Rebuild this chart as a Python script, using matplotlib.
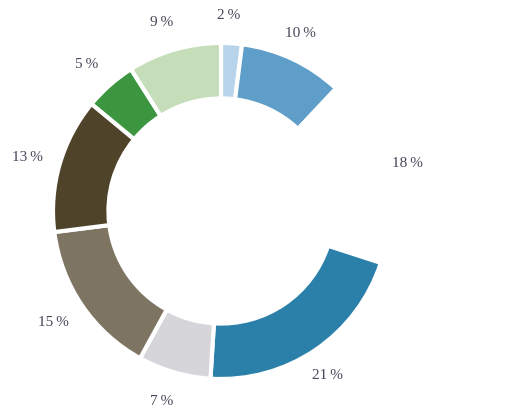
import numpy as np
import matplotlib.pyplot as plt

# share of each segment, clockwise from the top
shares = [2, 10, 18, 21, 7, 15, 13, 5, 9]
colors = ["#b8d4ea", "#5f9ec9", "#ffffff", "#2a80a9", "#d6d6da",
          "#7e7462", "#4f4329", "#3b963f", "#c5ddb9"]
labels = ["%d\u2009%%" % s for s in shares]

plt.rcParams['font.family'] = ['Liberation Serif', 'DejaVu Serif']

fig = plt.figure(figsize=(5.24, 4.09), dpi=100)
ax = fig.add_axes([0, 0, 1, 1])

r = 168.0
cx, cy = 221.0, 211.0
wedges, texts = ax.pie(shares, colors=colors, labels=labels, startangle=90,
                       counterclock=False, radius=1.0, labeldistance=1.17,
                       wedgeprops=dict(width=0.33, edgecolor="white", linewidth=3),
                       textprops=dict(fontsize=11, color="#4a4458"))

# labels sit on a slightly shifted ring around the donut
lab_r = 1.173
lab_dx, lab_dy = -0.027, -0.007
for w, t in zip(wedges, texts):
    ang = np.deg2rad((w.theta1 + w.theta2) / 2)
    t.set_position((lab_dx + lab_r * np.cos(ang), lab_dy + lab_r * np.sin(ang)))
    t.set_ha("center")
    t.set_va("center")

ax.set_xlim(-cx / r, (524 - cx) / r)
ax.set_ylim((cy - 409) / r, cy / r)
ax.set_aspect("equal")
ax.axis("off")

fig.savefig("out.png", dpi=100)
